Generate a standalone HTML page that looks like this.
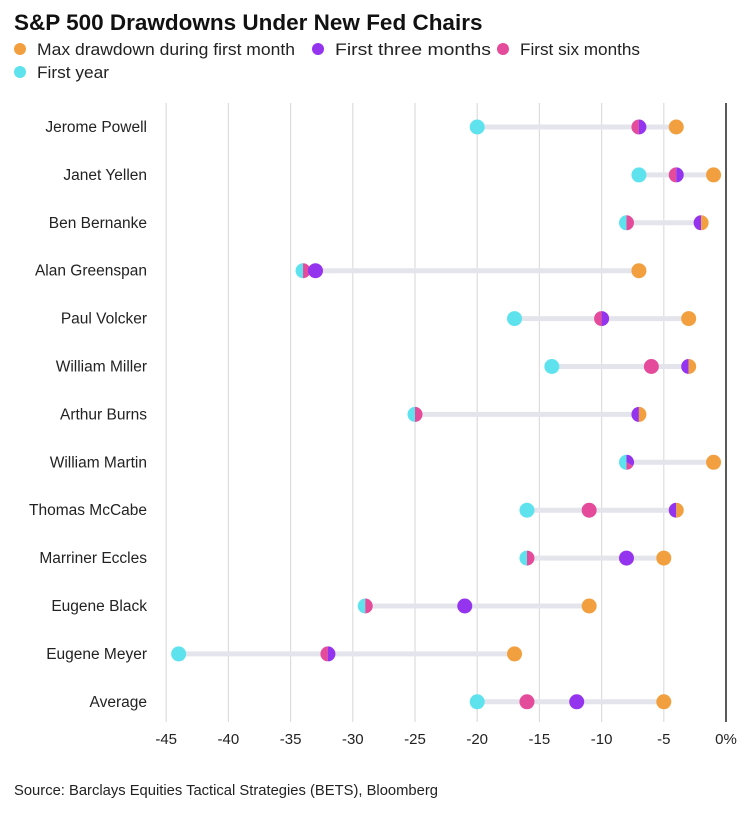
<!DOCTYPE html>
<html><head><meta charset="utf-8"><style>
body{margin:0;background:#fff;font-family:"Liberation Sans",Arial,sans-serif;}
</style></head><body>
<svg id="s" width="750" height="808" xmlns="http://www.w3.org/2000/svg" font-family="Liberation Sans, Arial, sans-serif"></svg>
<script>
const C={m:"#F2A03F",t:"#9434EE",s:"#E54B9B",y:"#5EE3EE"};
const X=v=>726+v*12.44;
const rows=[
["Jerome Powell",[["y",-20],["st",-7],["m",-4]]],
["Janet Yellen",[["y",-7],["st",-4],["m",-1]]],
["Ben Bernanke",[["ys",-8],["tm",-2]]],
["Alan Greenspan",[["ys",-34],["t",-33],["m",-7]]],
["Paul Volcker",[["y",-17],["st",-10],["m",-3]]],
["William Miller",[["y",-14],["s",-6],["tm",-3]]],
["Arthur Burns",[["ys",-25],["tm",-7]]],
["William Martin",[["yts",-8],["m",-1]]],
["Thomas McCabe",[["y",-16],["s",-11],["tm",-4]]],
["Marriner Eccles",[["ys",-16],["t",-8],["m",-5]]],
["Eugene Black",[["ys",-29],["t",-21],["m",-11]]],
["Eugene Meyer",[["y",-44],["st",-32],["m",-17]]],
["Average",[["y",-20],["s",-16],["t",-12],["m",-5]]]];
let h='';
h+='<text x="14" y="30" font-size="22.5" font-weight="bold" fill="#111">S&amp;P 500 Drawdowns Under New Fed Chairs</text>';
const leg=[["m","Max drawdown during first month",20,55,258],["t","First three months",318,55,156],["s","First six months",503,55,120],["y","First year",20,78,72]];
for(const [k,t,x,y,w] of leg){h+=`<circle cx="${x}" cy="${y-6}" r="6" fill="${C[k]}"/><text x="${x+17}" y="${y}" font-size="17" textLength="${w}" lengthAdjust="spacingAndGlyphs" fill="#222">${t}</text>`;}
for(let v=-45;v<0;v+=5){h+=`<line x1="${X(v)}" y1="103" x2="${X(v)}" y2="722" stroke="#ddd" stroke-width="1.2"/>`;h+=`<text x="${X(v)}" y="744" font-size="15" text-anchor="middle" fill="#222">${v}</text>`;}
h+=`<line x1="726" y1="103" x2="726" y2="722" stroke="#222" stroke-width="1.5"/><text x="726" y="744" font-size="15" text-anchor="middle" fill="#222">0%</text>`;
rows.forEach((r,i)=>{const y=127+i*47.9;const vs=r[1].map(d=>d[1]);
h+=`<text x="147" y="${y+5}" font-size="15.5" text-anchor="end" fill="#222">${r[0]}</text>`;
h+=`<line x1="${X(Math.min(...vs))}" y1="${y}" x2="${X(Math.max(...vs))}" y2="${y}" stroke="#e4e4ec" stroke-width="5"/>`;
for(const [k,v] of r[1]){const cx=X(v),R=7.5;
if(k.length==1)h+=`<circle cx="${cx}" cy="${y}" r="${R}" fill="${C[k]}"/>`;
else if(k.length==2){h+=`<path d="M${cx},${y-R}A${R},${R} 0 0 0 ${cx},${y+R}Z" fill="${C[k[0]]}"/><path d="M${cx},${y-R}A${R},${R} 0 0 1 ${cx},${y+R}Z" fill="${C[k[1]]}"/>`;}
else{h+=`<path d="M${cx},${y-R}A${R},${R} 0 0 0 ${cx},${y+R}Z" fill="${C.y}"/><path d="M${cx},${y}L${cx},${y-R}A${R},${R} 0 0 1 ${cx+R*0.87},${y+R*0.5}Z" fill="${C.t}"/><path d="M${cx},${y}L${cx+R*0.87},${y+R*0.5}A${R},${R} 0 0 1 ${cx},${y+R}Z" fill="${C.s}"/>`;}
}});
h+='<text x="14" y="795" font-size="14.5" textLength="424" lengthAdjust="spacingAndGlyphs" fill="#222">Source: Barclays Equities Tactical Strategies (BETS), Bloomberg</text>';
document.getElementById('s').innerHTML=h;
</script>
</body></html>
